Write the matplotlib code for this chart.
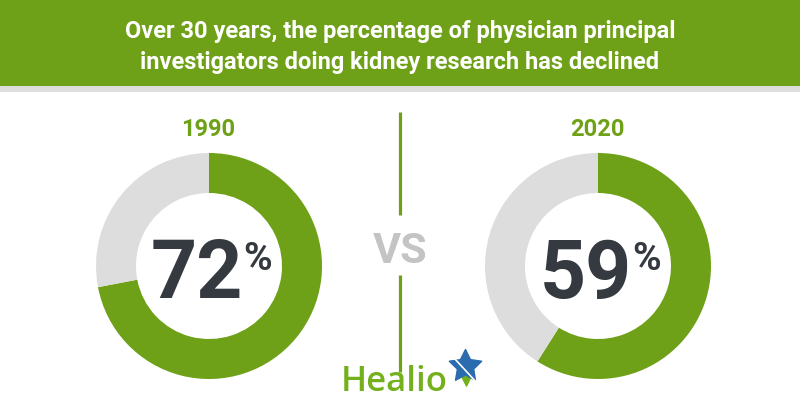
import matplotlib.pyplot as plt
from matplotlib.patches import Rectangle

# --- Data ---
years = ['1990', '2020']
pct_values = [72, 59]
title_lines = ['Over 30 years, the percentage of physician principal',
               'investigators doing kidney research has declined']

GREEN = '#6ea117'
RING_GRAY = '#dddddd'
DARK = '#343a40'
W, H = 800, 420

fig = plt.figure(figsize=(W / 100, H / 100), dpi=100)
fig.patch.set_facecolor('white')

# base layer in pixel coordinates
ax = fig.add_axes([0, 0, 1, 1])
ax.set_xlim(0, W)
ax.set_ylim(H, 0)
ax.axis('off')

# --- Header band ---
ax.add_patch(Rectangle((0, 0), W, 86, color=GREEN, lw=0))
ax.add_patch(Rectangle((0, 86), W, 6, color='#dedede', lw=0))
ax.text(W / 2, 38, title_lines[0], ha='center', va='baseline', color='white',
        fontsize=17, fontweight='bold', family='Roboto')
ax.text(W / 2, 69, title_lines[1], ha='center', va='baseline', color='white',
        fontsize=17, fontweight='bold', family='Roboto')

# --- Donuts ---
centers_x = [209, 598]
cy, r_out, ring = 266, 113, 40
for cx, year, pct in zip(centers_x, years, pct_values):
    dax = fig.add_axes([(cx - r_out) / W, (H - cy - r_out) / H,
                        2 * r_out / W, 2 * r_out / H])
    dax.pie([pct, 100 - pct], colors=[GREEN, RING_GRAY], startangle=90,
            counterclock=False, radius=1,
            wedgeprops=dict(width=ring / r_out, linewidth=0))
    dax.set_xlim(-1, 1)
    dax.set_ylim(-1, 1)
    dax.axis('off')

    ax.text(cx - 1, 136, year, ha='center', va='baseline', color=GREEN,
            fontsize=17, fontweight='bold', family='Roboto')
    ax.text(cx + 34, 298, str(pct), ha='right', va='baseline', color=DARK,
            fontsize=58, fontweight='bold', family='Roboto')
    ax.text(cx + 34, 270, '%', ha='left', va='baseline', color=DARK,
            fontsize=28, fontweight='bold', family='Roboto')

# --- Divider and VS ---
ax.plot([400, 400], [112, 215], color=GREEN, lw=2.3, solid_capstyle='butt')
ax.plot([400, 400], [275, 372], color=GREEN, lw=2.3, solid_capstyle='butt')
ax.text(400, 263, 'VS', ha='center', va='baseline', color='#c4c4c4',
        fontsize=31, fontweight='bold', family='Roboto')

# --- Logo ---
ax.text(341, 391, 'Healio', ha='left', va='baseline', color='#74b01c',
        fontsize=25, fontweight='semibold', family='Open Sans')
ax.scatter([466], [378], s=120, marker='v', color='#74b01c', zorder=4)
ax.scatter([465], [366], s=600, marker=(5, 1, 0), color='#2b6cae', zorder=5)
ax.plot([454, 478], [358, 384], color='white', lw=1.2, zorder=6)

fig.savefig('out.png', dpi=100)
